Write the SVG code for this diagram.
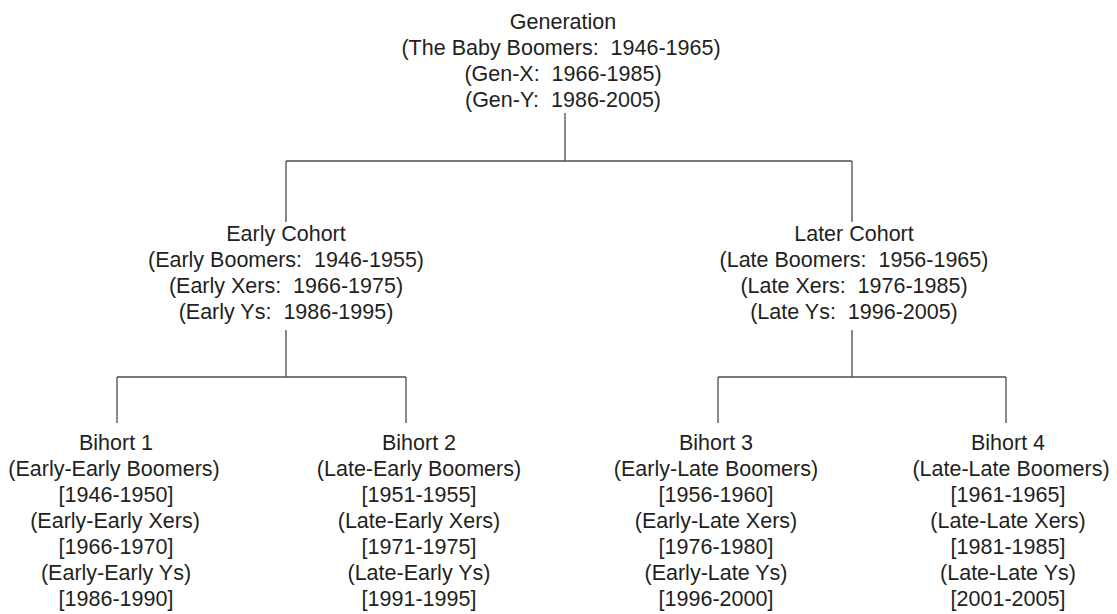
<svg xmlns="http://www.w3.org/2000/svg" width="1117" height="614" viewBox="0 0 1117 614">
  <style>
    .lbl { font-family: "Liberation Sans", Arial, sans-serif; font-size: 21.5px; fill: #231f20; text-anchor: middle; white-space: pre; }
    .wire { stroke: #4d4d4d; stroke-width: 1.3; fill: none; }
  </style>
  <rect width="1117" height="614" fill="#ffffff"/>

  <!-- tree connectors -->
  <g id="connectors">
    <path class="wire" d="M565,113 V161 M286,161 H852 M286,161 V222 M852,161 V222"/>
    <path class="wire" d="M286,330 V377 M117,377 H406 M117,377 V423 M406,377 V423"/>
    <path class="wire" d="M852,330 V377 M718,377 H1006 M718,377 V423 M1006,377 V423"/>
  </g>

  <g id="generation">
    <text class="lbl" x="563" y="29">Generation</text>
    <text class="lbl" x="561" y="55">(The Baby Boomers:  1946-1965)</text>
    <text class="lbl" x="563" y="81">(Gen-X:  1966-1985)</text>
    <text class="lbl" x="563" y="107">(Gen-Y:  1986-2005)</text>
  </g>

  <g id="early-cohort">
    <text class="lbl" x="286" y="241">Early Cohort</text>
    <text class="lbl" x="286" y="267">(Early Boomers:  1946-1955)</text>
    <text class="lbl" x="286" y="293">(Early Xers:  1966-1975)</text>
    <text class="lbl" x="286" y="319">(Early Ys:  1986-1995)</text>
  </g>

  <g id="later-cohort">
    <text class="lbl" x="854" y="241">Later Cohort</text>
    <text class="lbl" x="854" y="267">(Late Boomers:  1956-1965)</text>
    <text class="lbl" x="854" y="293">(Late Xers:  1976-1985)</text>
    <text class="lbl" x="854" y="319">(Late Ys:  1996-2005)</text>
  </g>

  <g id="bihort-1">
    <text class="lbl" x="116" y="450">Bihort 1</text>
    <text class="lbl" x="114" y="476">(Early-Early Boomers)</text>
    <text class="lbl" x="116" y="502">[1946-1950]</text>
    <text class="lbl" x="115" y="528">(Early-Early Xers)</text>
    <text class="lbl" x="116" y="554">[1966-1970]</text>
    <text class="lbl" x="116" y="580">(Early-Early Ys)</text>
    <text class="lbl" x="116" y="606">[1986-1990]</text>
  </g>

  <g id="bihort-2">
    <text class="lbl" x="419" y="450">Bihort 2</text>
    <text class="lbl" x="419" y="476">(Late-Early Boomers)</text>
    <text class="lbl" x="419" y="502">[1951-1955]</text>
    <text class="lbl" x="419" y="528">(Late-Early Xers)</text>
    <text class="lbl" x="419" y="554">[1971-1975]</text>
    <text class="lbl" x="419" y="580">(Late-Early Ys)</text>
    <text class="lbl" x="419" y="606">[1991-1995]</text>
  </g>

  <g id="bihort-3">
    <text class="lbl" x="716" y="450">Bihort 3</text>
    <text class="lbl" x="716" y="476">(Early-Late Boomers)</text>
    <text class="lbl" x="716" y="502">[1956-1960]</text>
    <text class="lbl" x="716" y="528">(Early-Late Xers)</text>
    <text class="lbl" x="716" y="554">[1976-1980]</text>
    <text class="lbl" x="716" y="580">(Early-Late Ys)</text>
    <text class="lbl" x="716" y="606">[1996-2000]</text>
  </g>

  <g id="bihort-4">
    <text class="lbl" x="1008" y="450">Bihort 4</text>
    <text class="lbl" x="1011" y="476">(Late-Late Boomers)</text>
    <text class="lbl" x="1008" y="502">[1961-1965]</text>
    <text class="lbl" x="1008" y="528">(Late-Late Xers)</text>
    <text class="lbl" x="1008" y="554">[1981-1985]</text>
    <text class="lbl" x="1008" y="580">(Late-Late Ys)</text>
    <text class="lbl" x="1008" y="606">[2001-2005]</text>
  </g>
</svg>
